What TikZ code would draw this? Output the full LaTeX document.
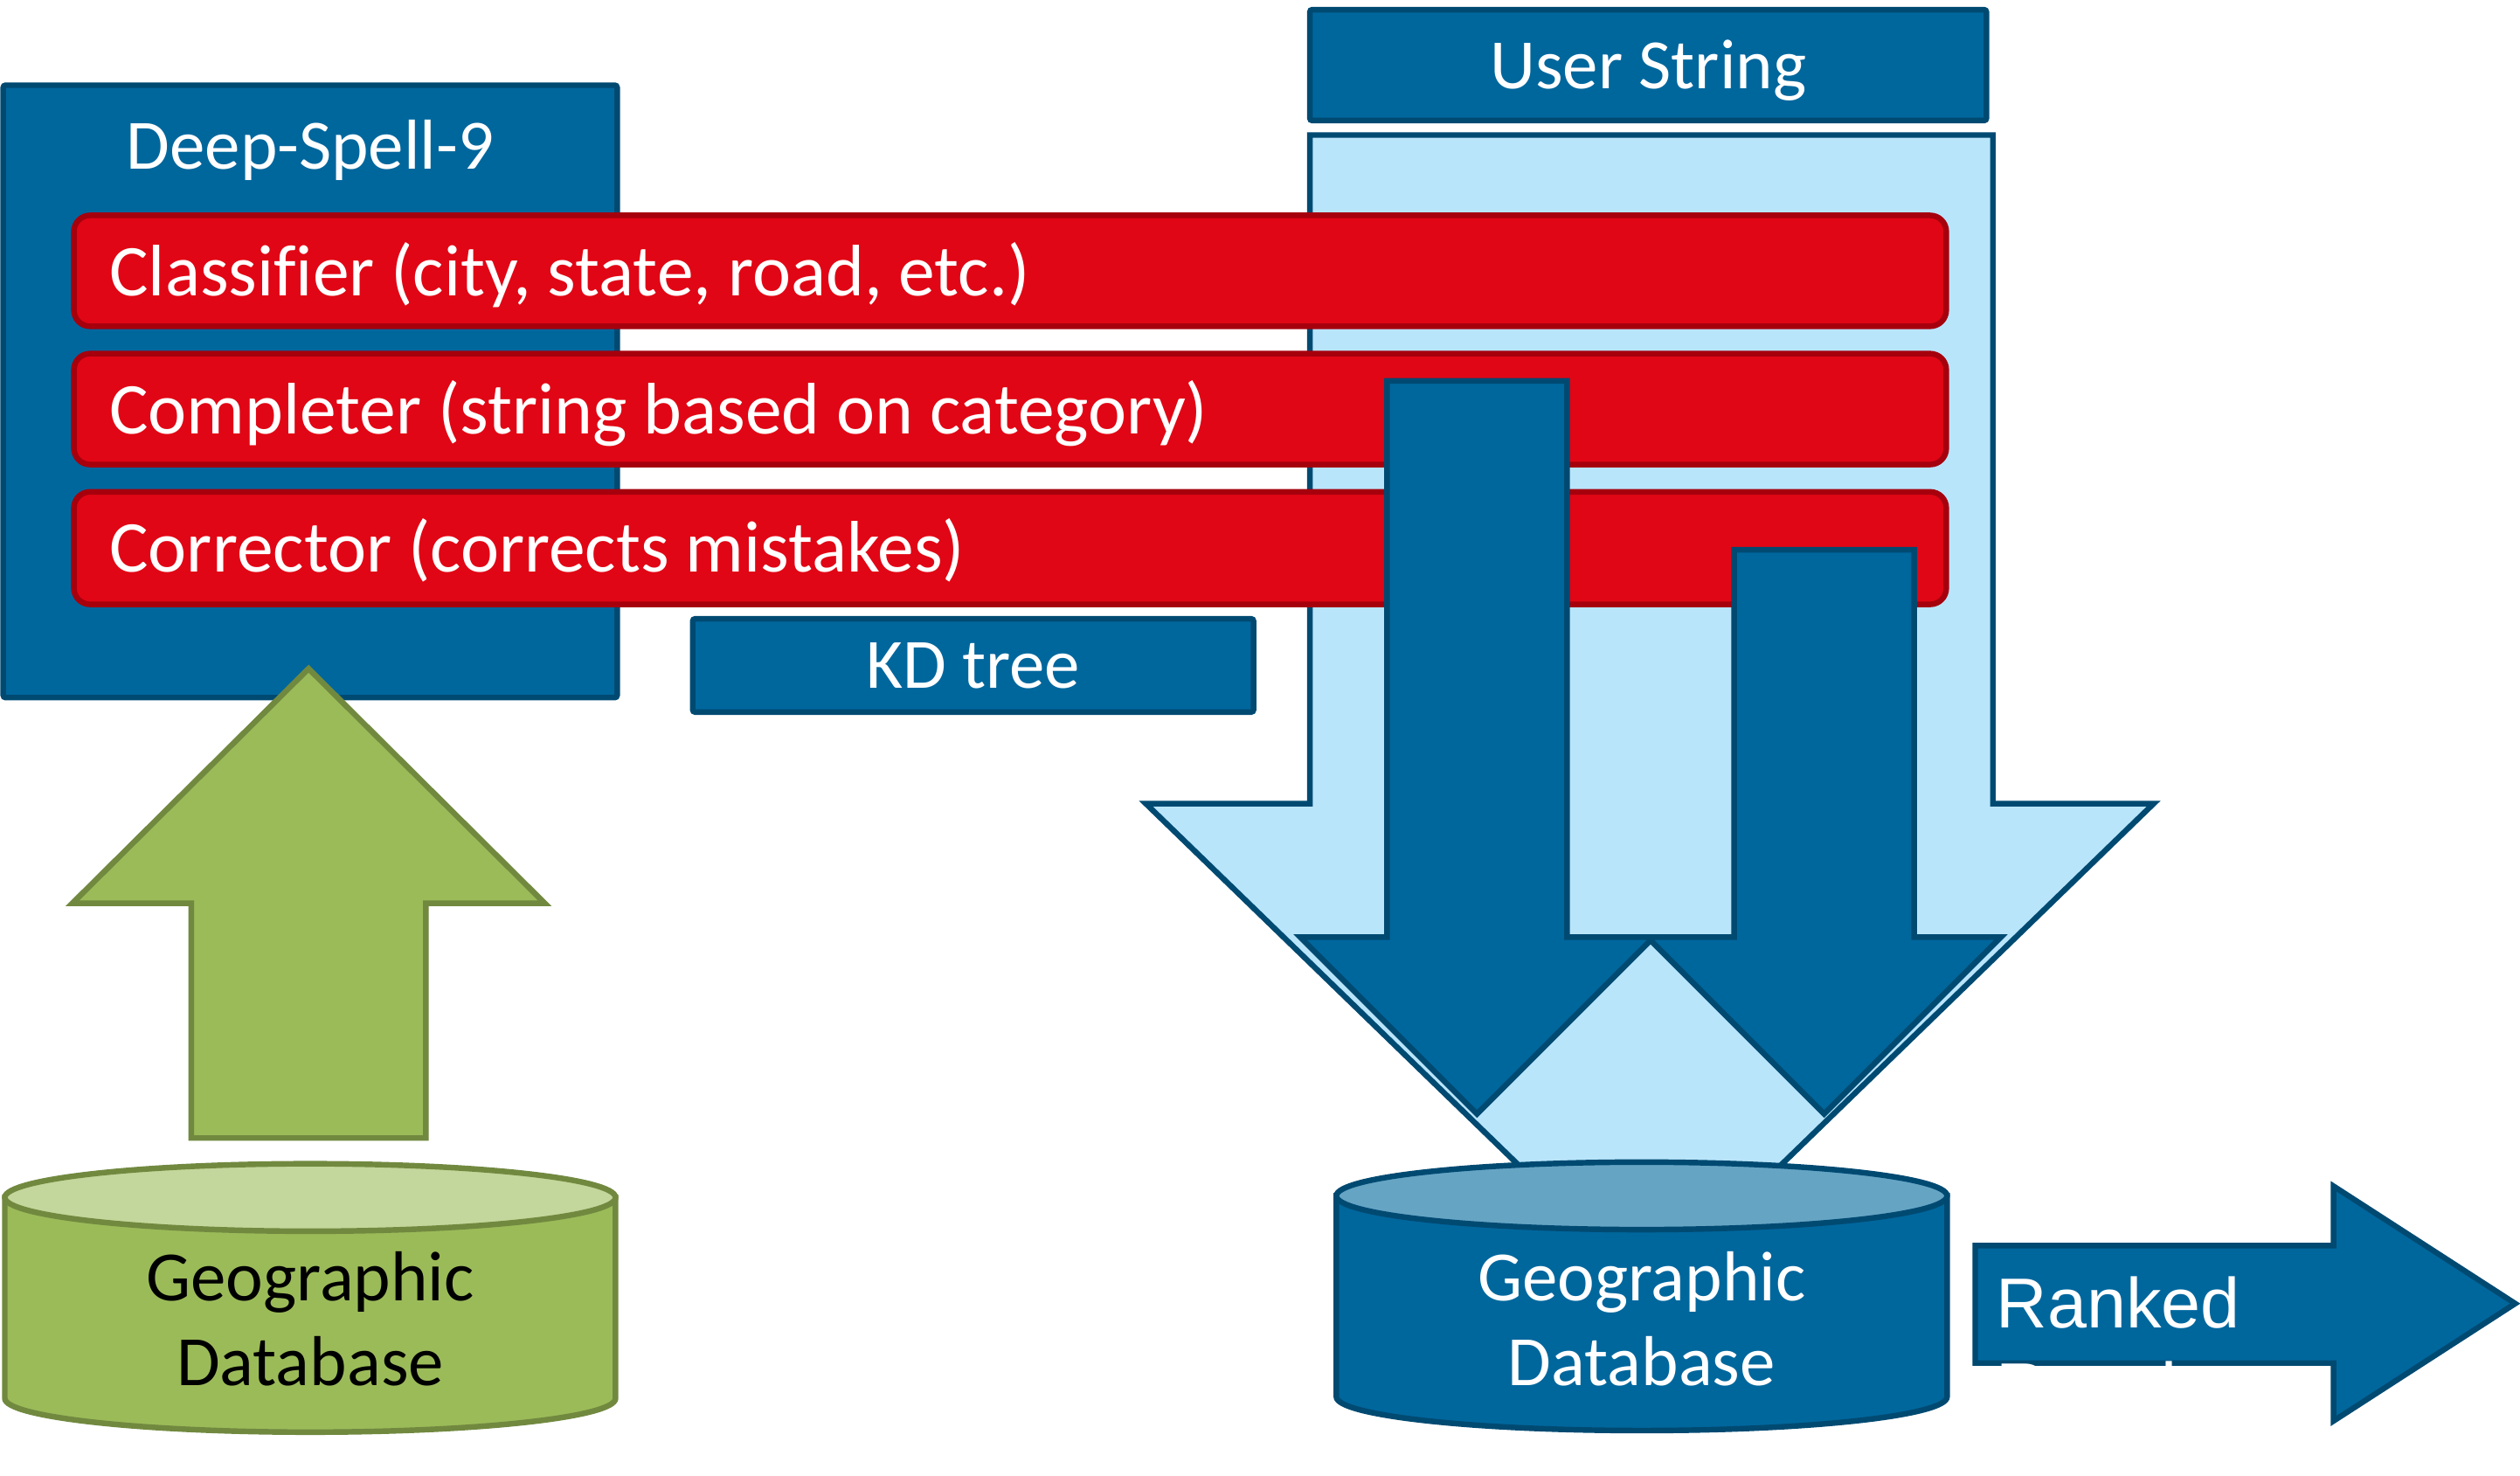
\documentclass[tikz,border=0pt]{standalone}
\usepackage{fontspec}
\setmainfont{Carlito}[Ligatures=NoCommon]
\newfontfamily\arialf{Liberation Sans}
\definecolor{bmain}{RGB}{0,103,157}
\definecolor{bborder}{RGB}{0,74,114}
\definecolor{blight}{RGB}{185,229,251}
\definecolor{btop}{RGB}{102,164,196}
\definecolor{rmain}{RGB}{225,6,21}
\definecolor{rborder}{RGB}{166,0,13}
\definecolor{gmain}{RGB}{155,187,89}
\definecolor{gborder}{RGB}{113,137,63}
\definecolor{gtop}{RGB}{195,214,155}
\begin{document}
\begin{tikzpicture}[x=1pt,y=-1pt,
  bluebox/.style={fill=bmain,draw=bborder,line width=3.5pt,rounded corners=1.5pt},
  lightarrow/.style={fill=blight,draw=bborder,line width=3.5pt},
  darkarrow/.style={fill=bmain,draw=bborder,line width=3.5pt},
  redbar/.style={fill=rmain,draw=rborder,line width=3.5pt,rounded corners=10pt},
  greenshape/.style={fill=gmain,draw=gborder,line width=3.5pt},
  greentop/.style={fill=gtop,draw=gborder,line width=3.5pt},
  bluetop/.style={fill=btop,draw=bborder,line width=3.5pt},
  lbl/.style={text=white,inner sep=0pt,font=\fontsize{44}{53}\selectfont},
  redlbl/.style={text=white,inner sep=0pt,font=\fontsize{45.4}{53}\selectfont},
  lblblack/.style={text=black,inner sep=0pt,font=\fontsize{44}{53}\selectfont},
  lblarial/.style={text=white,inner sep=0pt,font=\arialf\fontsize{44}{53}\selectfont}]
\useasboundingbox (0,0) rectangle (1568,918);
\fill[white] (0,0) rectangle (1568,918);
% Deep-Spell-9 box
\draw[bluebox] (2,53) rectangle (384,434);
\node[lbl,anchor=base] (ds) at (193,105) {Deep-Spell-9};
% User String box
\draw[bluebox] (815,6) rectangle (1236,75);
\node[lbl,anchor=base] (us) at (1025.5,55) {User String};
% big light arrow
\draw[lightarrow] (815,84) -- (1240,84) -- (1240,500) -- (1340,500) -- (1026.5,804) -- (713,500) -- (815,500) -- cycle;
% red bars
\draw[redbar] (46,134) rectangle (1211,203);
\node[redlbl,anchor=base west] (cls) at (68,184) {Classifier (city, state, road, etc.)};
\draw[redbar] (46,220) rectangle (1211,289);
\node[redlbl,anchor=base west] (cmp) at (68,270) {Completer (string based on category)};
\draw[redbar] (46,306) rectangle (1211,376);
\node[redlbl,anchor=base west] (cor) at (68,356) {Corrector (corrects mistakes)};
% dark arrows
\draw[darkarrow] (863,237) -- (975,237) -- (975,583) -- (1029,583) -- (919,693) -- (809,583) -- (863,583) -- cycle;
\draw[darkarrow] (1079,342) -- (1191,342) -- (1191,583) -- (1245,583) -- (1135,693) -- (1025,583) -- (1079,583) -- cycle;
% KD tree
\draw[bluebox] (431,385) rectangle (780,443);
\node[lbl,anchor=base] (kd) at (605.5,428) {KD tree};
% green up arrow
\draw[greenshape] (119,708) -- (119,562) -- (45,562) -- (192,416) -- (339,562) -- (265,562) -- (265,708) -- cycle;
% green cylinder
\draw[greenshape] (3,745) -- (3,870) arc[start angle=180,end angle=0,x radius=190,y radius=21] -- (383,745) -- cycle;
\draw[greentop] (193,745) ellipse [x radius=190,y radius=21];
\node[lblblack,align=center,anchor=base] (gdb1) at (193,862) {Geographic\\Database};
% blue cylinder
\draw[darkarrow] (831.5,744) -- (831.5,869) arc[start angle=180,end angle=0,x radius=190,y radius=21] -- (1211.5,744) -- cycle;
\draw[bluetop] (1021.5,744) ellipse [x radius=190,y radius=21];
\node[lbl,align=center,anchor=base] (gdb2) at (1021.5,862) {Geographic\\Database};
% ranked arrow
\draw[darkarrow] (1229,775) -- (1452,775) -- (1452,738) -- (1565,811) -- (1452,884) -- (1452,848) -- (1229,848) -- cycle;
\node[lblarial,align=left,anchor=base west] (rk) at (1242,879) {Ranked\\Results};
\end{tikzpicture}
\end{document}
